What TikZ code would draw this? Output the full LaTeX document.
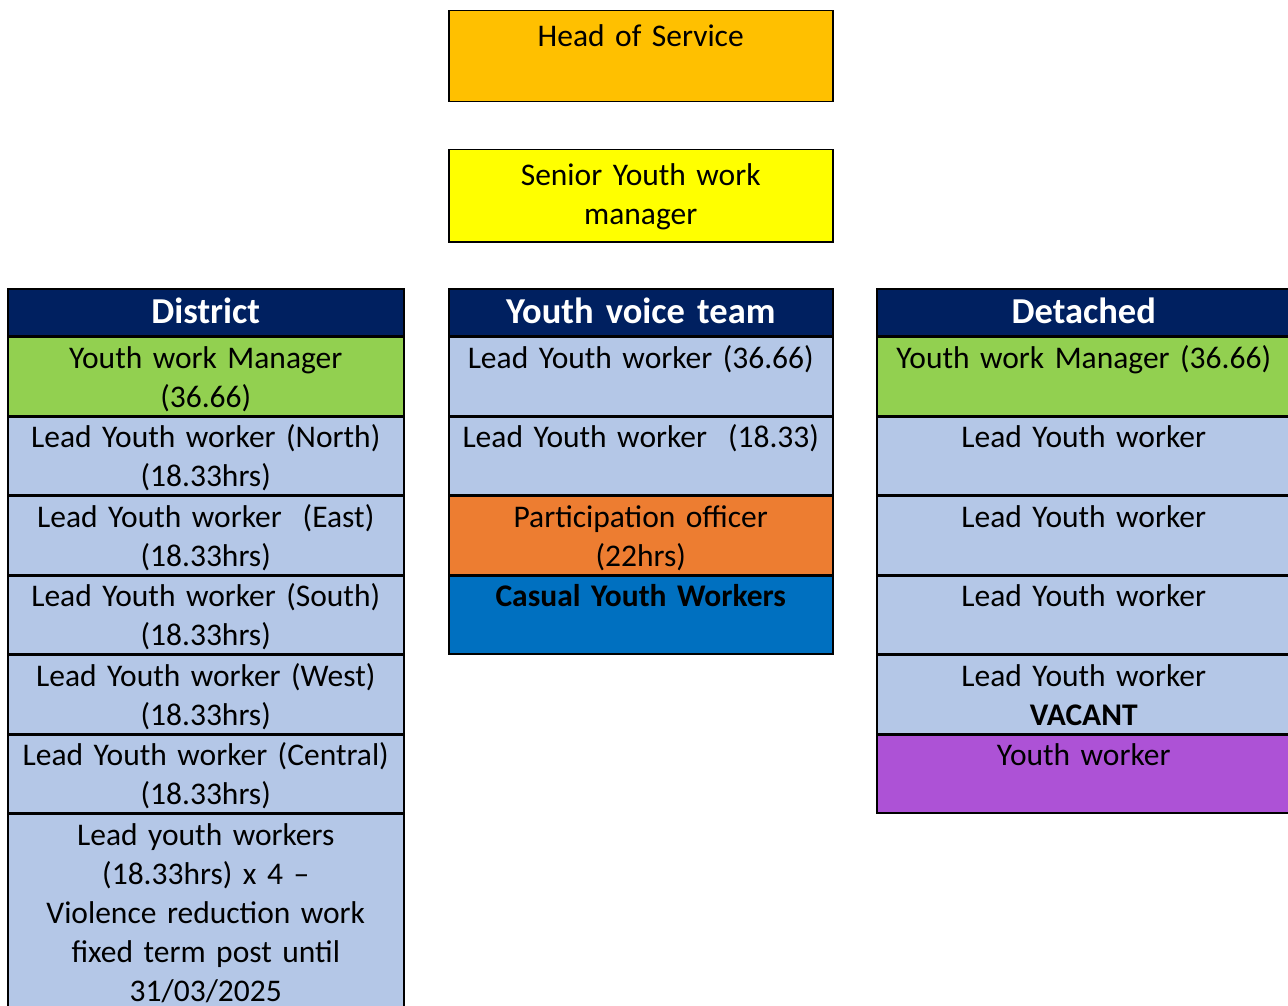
\documentclass[tikz,border=0pt]{standalone}
\usepackage{fontspec}
\setmainfont{Carlito}
\usetikzlibrary{positioning}
\definecolor{hosgold}{HTML}{FFC000}
\definecolor{seniorylw}{HTML}{FFFF00}
\definecolor{navy}{HTML}{002060}
\definecolor{mgrgreen}{HTML}{92D050}
\definecolor{leadblue}{HTML}{B4C7E7}
\definecolor{partorange}{HTML}{ED7D31}
\definecolor{casualblue}{HTML}{0070C0}
\definecolor{ywpurple}{HTML}{AD52D6}
\begin{document}
\begin{tikzpicture}[x=1pt,y=-1pt,
  every node/.style={font=\fontsize{31.5}{39}\selectfont},
  cell/.style={draw,line width=1.5pt,inner sep=0pt,align=center,fill=leadblue,
    text height=31pt,text depth=47pt},
  dcell/.style={cell,text width=396pt},
  ycell/.style={cell,text width=384pt},
  xcell/.style={cell,text width=414pt},
  head/.style={fill=navy,text=white,font=\fontsize{36.5}{40}\selectfont\bfseries,
    text height=35pt,text depth=12pt},
  topbox/.style={draw,line width=1.5pt,inner sep=0pt,align=center,text width=384pt,
    text height=36pt,anchor=north west}]
\useasboundingbox (0,0) rectangle (1288,1006);
\node[topbox,fill=hosgold,text depth=55pt] (hos) at (448,10) {Head of Service};
\node[topbox,fill=seniorylw,text depth=56pt] (sywm) at (448,149) {Senior Youth work\\manager};
% District
\node[dcell,head,anchor=north west] (hd) at (7,288) {District};
\node[dcell,fill=mgrgreen,below=0pt of hd] (d1) {Youth work Manager\\(36.66)};
\node[dcell,below=0pt of d1] (d2) {Lead Youth worker (North)\\(18.33hrs)};
\node[dcell,below=0pt of d2] (d3) {Lead Youth worker~ (East)\\(18.33hrs)};
\node[dcell,below=0pt of d3] (d4) {Lead Youth worker (South)\\(18.33hrs)};
\node[dcell,below=0pt of d4] (d5) {Lead Youth worker (West)\\(18.33hrs)};
\node[dcell,below=0pt of d5] (d6) {Lead Youth worker (Central)\\(18.33hrs)};
\node[dcell,below=0pt of d6,text depth=176pt] (d7) {Lead youth workers\\(18.33hrs) x 4 --\\Violence reduction work\\fixed term post until\\31/03/2025};
% Youth voice team
\node[ycell,head,anchor=north west] (hy) at (448,288) {Youth voice team};
\node[ycell,below=0pt of hy] (y1) {Lead Youth worker (36.66)};
\node[ycell,below=0pt of y1] (y2) {Lead Youth worker~ (18.33)};
\node[ycell,fill=partorange,below=0pt of y2] (y3) {Participation officer\\(22hrs)};
\node[ycell,fill=casualblue,font=\fontsize{31.5}{39}\selectfont\bfseries,below=0pt of y3] (y4) {Casual Youth Workers};
% Detached
\node[xcell,head,anchor=north west] (hx) at (876,288) {Detached};
\node[xcell,fill=mgrgreen,below=0pt of hx] (x1) {Youth work Manager (36.66)};
\node[xcell,below=0pt of x1] (x2) {Lead Youth worker};
\node[xcell,below=0pt of x2] (x3) {Lead Youth worker};
\node[xcell,below=0pt of x3] (x4) {Lead Youth worker};
\node[xcell,below=0pt of x4] (x5) {Lead Youth worker\\\textbf{VACANT}};
\node[xcell,fill=ywpurple,below=0pt of x5] (x6) {Youth worker};
\end{tikzpicture}
\end{document}
